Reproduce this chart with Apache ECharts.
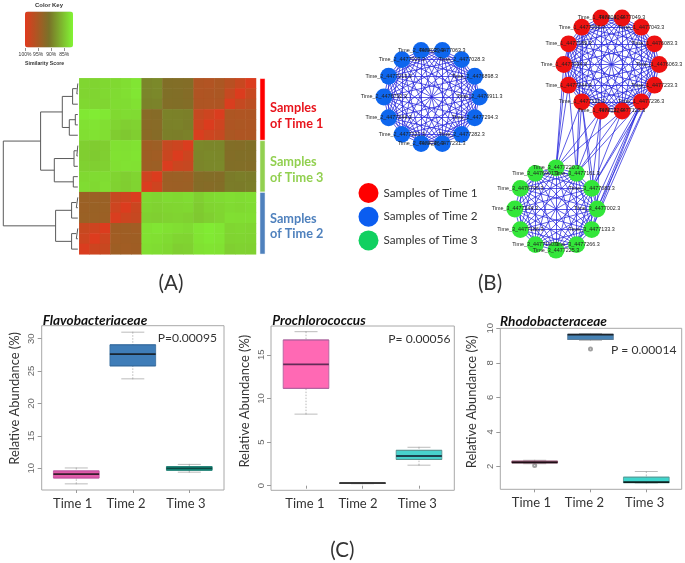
<!DOCTYPE html>
<html><head><meta charset="utf-8">
<style>html,body{margin:0;padding:0;background:#fff}#c{width:685px;height:563px}</style>
<script src="https://cdn.jsdelivr.net/npm/echarts@6/dist/echarts.min.js"></script>
</head><body><div id="c"></div>
<script>
// ---- data ----
const similarity = [
[84.1,84.3,84.0,83.9,83.6,83.1,89.6,89.4,91.6,91.7,91.8,95.7,95.9,95.4,96.5,97.8,99.6],
[84.2,84.2,83.9,83.8,83.5,83.0,89.7,89.5,91.5,91.6,91.9,95.8,95.6,95.3,97.6,99.6,97.8],
[84.0,84.1,84.1,83.7,83.7,83.4,89.9,89.8,91.7,91.6,91.8,95.6,95.7,95.6,99.4,97.6,96.8],
[82.9,82.6,82.9,83.9,83.7,83.8,92.2,92.1,89.9,90.0,90.1,97.5,98.3,99.5,95.5,95.7,95.6],
[83.4,83.2,83.5,84.3,84.6,84.4,92.3,92.2,90.0,89.9,90.2,98.2,99.6,98.4,95.6,95.4,95.5],
[83.5,83.3,83.5,84.8,85.1,84.7,92.4,92.1,90.1,90.2,90.0,99.4,98.3,97.6,95.3,95.6,95.5],
[84.6,84.8,84.7,83.4,83.5,83.3,94.3,94.1,97.6,98.2,99.5,89.5,89.6,89.6,91.7,91.8,91.5],
[84.7,84.9,84.6,83.3,83.4,83.2,94.2,94.4,98.0,99.6,98.2,89.6,89.4,89.5,91.8,91.6,91.7],
[84.5,84.6,84.5,83.5,83.3,83.4,94.2,94.0,99.5,98.1,97.7,89.7,89.5,89.4,91.6,91.7,91.8],
[83.9,83.8,83.7,84.3,84.6,84.2,98.4,99.6,94.0,93.9,94.1,92.0,91.8,91.9,90.4,90.2,90.3],
[83.7,83.9,83.6,84.4,84.7,84.3,99.5,98.4,94.1,94.0,93.9,91.9,92.1,91.8,90.3,90.4,90.2],
[93.8,93.9,93.7,97.6,98.2,99.5,84.0,84.2,83.8,83.9,83.7,84.6,84.0,83.8,83.6,83.7,83.6],
[93.9,93.7,93.8,98.3,99.6,98.1,84.2,84.4,84.2,84.1,84.0,84.9,84.3,84.1,83.8,83.9,83.7],
[93.8,93.8,93.9,99.4,98.2,97.7,84.5,84.6,84.4,84.3,84.5,85.0,84.6,84.2,83.5,83.6,83.6],
[97.8,98.4,99.6,94.3,94.2,94.4,83.3,83.1,83.4,83.6,83.8,83.0,82.7,83.0,84.1,84.0,84.1],
[98.3,99.7,98.3,94.4,94.3,94.2,83.4,83.5,83.8,84.2,84.3,83.2,82.8,83.1,84.3,84.2,84.3],
[99.5,98.2,97.8,94.2,94.4,94.3,83.6,83.7,84.0,84.6,84.5,83.4,83.2,83.3,84.6,84.4,84.5]
];
// linkage: [child, child, height]; ids 0-16 are leaves (rows), 17+ are earlier merges
const linkage = [[0,1,2.5],[17,2,6.7],[3,4,4],[19,5,10],[18,20,17],[6,7,2.5],[22,8,5.3],[9,10,6],[23,24,25],[21,25,38.7],
  [11,12,3],[27,13,7.7],[14,15,3],[29,16,7.7],[28,30,23.7],[26,31,76]];
const groupNames = ['Time 1 rows','Time 3 rows','Time 2 rows'];
const groupRows = [6,5,6];

const netCategories = ['Samples of Time 1','Samples of Time 2','Samples of Time 3'];
const time1Nodes = ['Time_1_4476063.3','Time_1_4476083.3','Time_1_4477043.3','Time_1_4477049.3','Time_1_4477040.3','Time_1_4477056.3','Time_1_4477189.3','Time_1_4477034.3','Time_1_4477244.3','Time_1_4477120.3','Time_1_4477122.3','Time_1_4477123.3','Time_1_4477236.3','Time_1_4477233.3'];
const time2Nodes = ['Time_2_4476911.3','Time_2_4476898.3','Time_2_4477028.3','Time_2_4477063.3','Time_2_4477039.3','Time_2_4477029.3','Time_2_4477213.3','Time_2_4476792.3','Time_2_4477244.3','Time_2_4477221.3','Time_2_4477246.3','Time_2_4477231.3','Time_2_4477282.3','Time_2_4477294.3'];
const time3Nodes = ['Time_3_4477002.3','Time_3_4477083.3','Time_3_4477161.3','Time_3_4477220.3','Time_3_4476901.3','Time_3_4476795.3','Time_3_4477144.3','Time_3_4477186.3','Time_3_4477190.3','Time_3_4477225.3','Time_3_4477266.3','Time_3_4477133.3'];
// edges between Time 1 nodes and Time 3 nodes (by node index)
const crossEdges = [[8,3],[8,2],[7,3],[9,3],[9,2],[9,1],[9,0],[10,3],[10,2],[10,1],[10,0],[11,3],[11,2],[11,1],[12,2],[12,1],[12,0],[12,11],[12,10],[13,0],[13,11],[13,1],[5,2],[6,3]];

const timeLabels = ['Time 1','Time 2','Time 3'];
// [low whisker, Q1, median, Q3, high whisker]
const flavoBox = [[7.6,8.5,9.1,9.6,10.05],[23.8,25.8,27.6,29.05,31.0],[9.4,9.7,10.0,10.25,10.6]];
const prochloroBox = [[8.2,11.15,13.9,16.7,17.65],[0.22,0.26,0.3,0.33,0.36],[2.35,3.0,3.4,4.05,4.4]];
const rhodoBox = [[2.15,2.2,2.23,2.3,2.35],[9.3,9.35,9.63,9.65,9.7],[1.03,1.05,1.08,1.37,1.7]];
const rhodoOutliers = [[1,2.05],[2,8.8]];
const flavoTicks = [10,15,20,25,30];
const prochloroTicks = [0,5,10,15];
const rhodoTicks = [2,4,6,8,10];

// ---- layout / style ----
const F = 'Lato';
const SANS = '"Liberation Sans"';
const grid = [], xAxis = [], yAxis = [], series = [];
const hidden = {show:false};

// heatmap
grid.push({left:79.3, top:78.3, width:176.7, height:176});
xAxis.push({type:'category', gridIndex:0, show:false, data:similarity.map((_,i)=>i)});
yAxis.push({type:'category', gridIndex:0, show:false, inverse:true, data:similarity.map((_,i)=>i)});
const cells = [];
similarity.forEach((row,r)=>row.forEach((v,c)=>cells.push([c,r,v])));
series.push({type:'heatmap', name:'Similarity', xAxisIndex:0, yAxisIndex:0, data:cells, silent:true, progressive:0});

// dendrogram from the linkage table
grid.push({left:0, top:78.3, width:79.3, height:176});
xAxis.push({type:'value', gridIndex:1, show:false, inverse:true, min:0, max:79.3});
yAxis.push({type:'value', gridIndex:1, show:false, inverse:true, min:0, max:17});
const nodes = similarity.map((_,i)=>({y:i+0.5, h:1.5}));
const dendro = [];
linkage.forEach(([a,b,h])=>{
  const A = nodes[a], B = nodes[b];
  dendro.push([A.h,A.y],[h,A.y],[h,B.y],[B.h,B.y],[null,null]);
  nodes.push({y:(A.y+B.y)/2, h});
});
series.push({type:'line', name:'Dendrogram', xAxisIndex:1, yAxisIndex:1, data:dendro, showSymbol:false, silent:true,
  lineStyle:{color:'#5a5a5a', width:1}, connectNulls:false});

// group side bar
grid.push({left:259.7, top:78.3, width:5.6, height:176});
xAxis.push({type:'category', gridIndex:2, show:false, data:['group']});
yAxis.push({type:'value', gridIndex:2, show:false, inverse:true, min:0, max:17});
const barColors = ['#ff0000','#92d050','#4f81bd'];
groupRows.forEach((n,i)=>series.push({type:'bar', name:groupNames[i], xAxisIndex:2, yAxisIndex:2, stack:'rows', barWidth:'100%', silent:true,
  data:[n], itemStyle:{color:barColors[i], borderColor:'#fff', borderWidth:0.5}}));

// colour key ticks
grid.push({left:25, top:47.5, width:39.3, height:0.5});
xAxis.push({type:'value', gridIndex:3, inverse:true, min:85, max:100, interval:5, position:'bottom',
  axisLine:{show:false}, splitLine:{show:false}, axisTick:{show:true, length:3, lineStyle:{color:'#444', width:0.6}},
  axisLabel:{fontSize:5, color:'#333', margin:4, fontFamily:SANS, formatter:'{value}%'},
  name:'Similarity Score', nameLocation:'middle', nameGap:13, nameTextStyle:{fontSize:5.2, fontWeight:'bold', color:'#333', fontFamily:SANS}});
yAxis.push({type:'value', gridIndex:3, show:false});

// network: full-page pixel-like scale
grid.push({left:0, top:0, width:685, height:563});
xAxis.push({type:'value', gridIndex:4, show:false, min:0, max:685});
yAxis.push({type:'value', gridIndex:4, show:false, inverse:true, min:0, max:563});
const netLayout = [{names:time1Nodes, cx:611.5, cy:64.5, r:47.7, cat:0},
                   {names:time2Nodes, cx:431.7, cy:97, r:47.8, cat:1},
                   {names:time3Nodes, cx:556, cy:209, r:41.2, cat:2}];
const netData = [], netLinks = [];
const offset = [];
netLayout.forEach(g=>{
  const base = netData.length; offset.push(base);
  const n = g.names.length;
  g.names.forEach((name,i)=>{
    const a = -i*2*Math.PI/n;
    netData.push({name, value:[g.cx+g.r*Math.cos(a), g.cy+g.r*Math.sin(a)], category:g.cat});
    for(let j=i+1;j<n;j++) netLinks.push({source:base+i, target:base+j});
  });
});
crossEdges.forEach(([a,b])=>netLinks.push({source:offset[0]+a, target:offset[2]+b}));
series.push({type:'graph', name:'Network', coordinateSystem:'cartesian2d', xAxisIndex:4, yAxisIndex:4, layout:'none', silent:true,
  symbol:'circle', symbolSize:16.8, categories:netCategories.map(name=>({name})),
  data:netData, links:netLinks,
  color:['#ee1111','#0e66ee','#33e63a'],
  lineStyle:{color:'#2424dc', width:0.75, opacity:1, curveness:0},
  label:{show:true, position:'inside', fontSize:5.4, color:'#222', fontFamily:SANS, formatter:'{b}'},
  labelLayout:{hideOverlap:false}});

// boxplots
function addBox(cfg){
  const rect = {left:cfg.x0, top:cfg.y0, width:cfg.x1-cfg.x0, height:cfg.y1-cfg.y0};
  // hidden twin axes carry the dotted whisker stems, so the two boxplot series are not laid side by side
  const gs = grid.length;
  grid.push({...rect});
  xAxis.push({type:'value', gridIndex:gs, show:false, min:cfg.xr[0], max:cfg.xr[1]});
  yAxis.push({type:'value', gridIndex:gs, show:false, min:cfg.yr[0], max:cfg.yr[1]});
  series.push({xAxisIndex:gs, yAxisIndex:gs, silent:true, type:'boxplot', name:cfg.name+' whiskers', boxWidth:[1,1], z:1,
    data:cfg.data.map((d,i)=>({value:[i+1,...d], itemStyle:{color:'#a0a0a0', borderColor:'#a8a8a8', borderWidth:0.8, borderType:[1.5,1.5]}}))});

  const gi = grid.length;
  grid.push({...rect, show:true, borderColor:'#a8a8a8', borderWidth:1});
  xAxis.push({type:'value', gridIndex:gi, min:cfg.xr[0], max:cfg.xr[1], splitLine:hidden, axisLine:{show:false},
    axisTick:{show:true, length:3, customValues:[1,2,3], lineStyle:{color:'#999'}},
    axisLabel:{customValues:cfg.xl, fontFamily:F, fontSize:13, color:'#333', margin:7, formatter:v=>timeLabels[cfg.xl.indexOf(v)]}});
  yAxis.push({type:'value', gridIndex:gi, min:cfg.yr[0], max:cfg.yr[1], splitLine:hidden, axisLine:{show:false},
    axisTick:{show:true, length:4, customValues:cfg.ticks, lineStyle:{color:'#999'}},
    axisLabel:{customValues:cfg.ticks, rotate:90, fontFamily:SANS, fontSize:9.5, color:'#666', margin:5},
    name:'Relative Abundance (%)', nameLocation:'middle', nameGap:cfg.gap, nameTextStyle:{fontFamily:F, fontSize:12.9, color:'#333', padding:[0,0,0,cfg.shift]}});
  const xy = {xAxisIndex:gi, yAxisIndex:gi, silent:true};
  // boxes: Q1-median-Q3 with the whiskers closed onto the box
  series.push({...xy, type:'boxplot', name:cfg.name, boxWidth:[45.7,45.7], z:3,
    data:cfg.data.map((d,i)=>({value:[i+1,d[1],d[1],d[2],d[3],d[3]], itemStyle:{color:cfg.colors[i], borderColor:cfg.edges[i], borderWidth:0.8}}))});
  const caps = [];
  cfg.data.forEach((d,i)=>caps.push([i+1,d[0]],[i+1,d[4]]));
  series.push({...xy, type:'scatter', name:cfg.name+' caps', symbol:'rect', symbolSize:[23,1], data:caps, itemStyle:{color:'#aaa'}});
  series.push({...xy, type:'scatter', name:cfg.name+' median', symbol:'rect', symbolSize:[45.7,cfg.mw||1.8], z:5,
    data:cfg.data.map((d,i)=>({value:[i+1,d[2]], itemStyle:{color:cfg.medians[i]}}))});
  if(cfg.outliers) series.push({...xy, type:'scatter', name:cfg.name+' outliers', symbol:'emptyCircle', symbolSize:3, data:cfg.outliers, itemStyle:{color:'#888', borderWidth:0.6}});
}
addBox({name:'Flavobacteriaceae', x0:41.7,x1:224,y0:325.7,y1:490, xr:[.388,3.614], yr:[6.65,32], xl:[.936,1.88,2.94], ticks:flavoTicks, gap:20, shift:19,
  data:flavoBox, colors:['#e25aa8','#3f7db8','#1aa08e'], edges:['#c050a0','#35699c','#157a6e'], medians:['#111','#111','#0c3a36']});
addBox({name:'Prochlorococcus', x0:271,x1:454.3,y0:326,y1:490.3, xr:[.38,3.625], yr:[-0.53,18.3], xl:[.98,1.92,2.97], ticks:prochloroTicks, gap:20, shift:14,
  data:prochloroBox, colors:['#ff69b4','#444','#48d1cc'], edges:['#a8609a','#444','#558f8c'], medians:['#4a1f45','#333','#123']});
addBox({name:'Rhodobacteraceae', x0:500.3,x1:681.7,y0:328.3,y1:489.3, xr:[.384,3.634], yr:[0.667,10], xl:[.94,1.89,2.97], ticks:rhodoTicks, gap:21.5, shift:14,
  data:rhodoBox, colors:['#a03a60','#4682b4','#40d5cc'], edges:['#905070','#5a7a96','#4a9a96'], medians:['#000','#101010','#000'], outliers:rhodoOutliers});

// texts
const t = (text,left,top,size,opt={})=>({text,left,top,padding:0,textAlign:opt.align||'left',textVerticalAlign:'middle',
  textStyle:{fontFamily:opt.font||F,fontSize:size,fontWeight:opt.weight||'normal',fontStyle:opt.style||'normal',color:opt.color||'#333'}});
const bold = (c)=>({weight:'bold',color:c});
const title = [
  t('Color Key',49,5.7,5.9,{align:'center',weight:'bold',font:SANS}),
  t('Samples',270,108,12.7,bold('#e8141c')), t('of Time 1',270,124,12.7,bold('#e8141c')),
  t('Samples',270,162,12.7,bold('#92d050')), t('of Time 3',270,178,12.7,bold('#92d050')),
  t('Samples',270,219,12.7,bold('#4f81bd')), t('of Time 2',270,234,12.7,bold('#4f81bd')),
  t('(A)',171,283,20.5,{align:'center'}), t('(B)',490,283,20.5,{align:'center'}), t('(C)',342.3,550,20.5,{align:'center'}),
  t('Flavobacteriaceae',42.7,320.7,13.6,{weight:'bold',style:'italic',color:'#111'}),
  t('Prochlorococcus',272.3,320.7,13.6,{weight:'bold',style:'italic',color:'#111'}),
  t('Rhodobacteraceae',500,321.7,13.6,{weight:'bold',style:'italic',color:'#111'}),
  t('P=0.00095',157.7,338,12.1), t('P= 0.00056',388.3,339,12.1), t('P = 0.00014',611,350,12.1)
];

const legendColors = ['#ff0000','#0b5df0','#10d060'];
const chart = echarts.init(document.getElementById('c'), null, {renderer:'canvas'});
chart.setOption({
  animation:false, backgroundColor:'#fff', tooltip:{show:false},
  title, grid, xAxis, yAxis, series,
  legend:{data:netCategories.map((name,i)=>({name, itemStyle:{color:legendColors[i]}})), orient:'vertical', left:358.5, top:183, itemWidth:20, itemHeight:20, itemGap:3.7, icon:'circle', padding:0, selectedMode:false,
    textStyle:{fontFamily:F, fontSize:11.7, color:'#333'}},
  visualMap:{type:'continuous', seriesIndex:0, dimension:2, min:82, max:100, orient:'horizontal', inverse:true, left:25, top:11.5, itemWidth:36, itemHeight:48, padding:0,
    calculable:false, hoverLink:false, text:null, showLabel:false,
    inRange:{color:['#82f534','#7a7228','#e03a1e']}}
});
</script></body></html>
